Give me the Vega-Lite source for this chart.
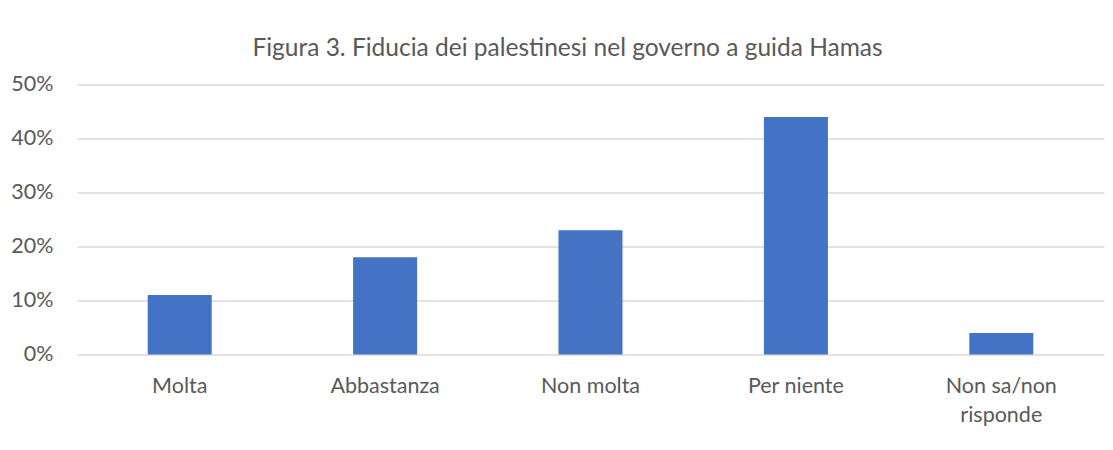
{
  "$schema": "https://vega.github.io/schema/vega-lite/v6.json",
  "autosize": "none",
  "width": 1027,
  "height": 270,
  "padding": {"left": 77, "top": 84.5, "right": 9, "bottom": 95.5},
  "background": "white",
  "title": {
    "text": "Figura 3. Fiducia dei palestinesi nel governo a guida Hamas",
    "font": "Lato",
    "fontSize": 24.5,
    "fontWeight": "normal",
    "color": "#595959",
    "anchor": "middle",
    "dx": -23,
    "offset": 12
  },
  "data": {
    "values": [
      {"categoria": "Molta", "valore": 0.11},
      {"categoria": "Abbastanza", "valore": 0.18},
      {"categoria": "Non molta", "valore": 0.23},
      {"categoria": "Per niente", "valore": 0.44},
      {"categoria": "Non sa/non risponde", "valore": 0.04}
    ]
  },
  "mark": {"type": "bar", "color": "#4472C4", "width": 64},
  "encoding": {
    "x": {
      "field": "categoria",
      "type": "nominal",
      "sort": null,
      "scale": {"paddingInner": 0, "paddingOuter": 0},
      "axis": {
        "title": null,
        "labelAngle": 0,
        "domain": false,
        "ticks": false,
        "labelFont": "Lato",
        "labelFontSize": 21.5,
        "labelColor": "#595959",
        "labelPadding": 21,
        "labelLineHeight": 29,
        "labelExpr": "datum.value == 'Non sa/non risponde' ? ['Non sa/non', 'risponde'] : datum.value"
      }
    },
    "y": {
      "field": "valore",
      "type": "quantitative",
      "scale": {"domain": [0, 0.5], "nice": false},
      "axis": {
        "title": null,
        "format": ".0%",
        "values": [0, 0.1, 0.2, 0.3, 0.4, 0.5],
        "domain": false,
        "ticks": false,
        "grid": true,
        "gridColor": "#D9D9D9",
        "gridWidth": 1.3,
        "labelFont": "Lato",
        "labelFontSize": 21.5,
        "labelColor": "#595959",
        "labelPadding": 24
      }
    }
  },
  "config": {"view": {"stroke": null}}
}
